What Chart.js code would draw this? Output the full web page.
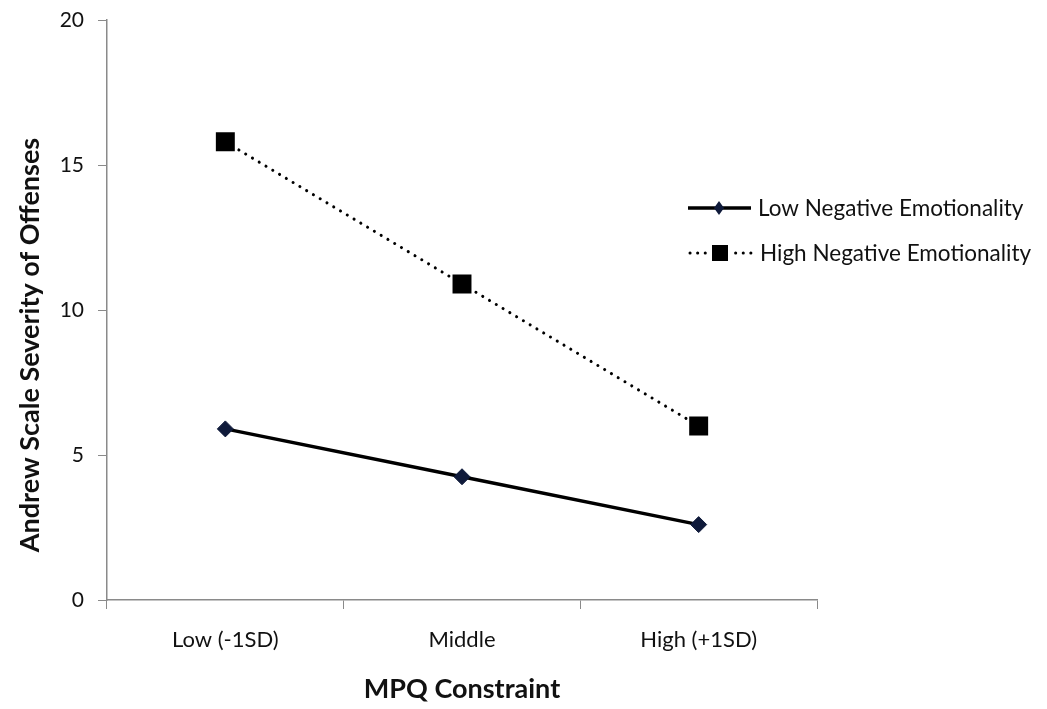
<!DOCTYPE html>
<html>
<head>
<meta charset="utf-8">
<style>
  html, body { margin: 0; padding: 0; background: #fff; }
  #wrap { position: relative; width: 1047px; height: 709px; }
</style>
<script src="https://cdn.jsdelivr.net/npm/chart.js@4/dist/chart.umd.min.js"></script>
</head>
<body>
<div id="wrap"><canvas id="c" width="1047" height="709"></canvas></div>
<script>
const categories = ["Low (-1SD)", "Middle", "High (+1SD)"];
const lowNE = [5.9, 4.25, 2.6];
const highNE = [15.8, 10.9, 6.0];
const seriesNames = ["Low Negative Emotionality", "High Negative Emotionality"];
const yTicks = [0, 5, 10, 15, 20];
const xTitle = "MPQ Constraint";
const yTitle = "Andrew Scale Severity of Offenses";

const FONT = "Lato, 'Open Sans', sans-serif";

const legendPlugin = {
  id: 'customLegend',
  afterDraw(chart) {
    const ctx = chart.ctx;
    const x0 = chart.chartArea.right - 129;
    const rows = [208, 253];
    ctx.save();
    // y axis title (placed as in the reference, slightly below the centre)
    ctx.save();
    ctx.translate(30, 345);
    ctx.rotate(-Math.PI / 2);
    ctx.fillStyle = '#111';
    ctx.font = "bold 27px " + FONT;
    ctx.textAlign = 'center';
    ctx.textBaseline = 'middle';
    ctx.fillText(yTitle, 0, 0);
    ctx.restore();
    // row 1: solid line with diamond
    ctx.strokeStyle = '#000';
    ctx.lineWidth = 3.5;
    ctx.setLineDash([]);
    ctx.beginPath();
    ctx.moveTo(x0, rows[0]);
    ctx.lineTo(x0 + 63, rows[0]);
    ctx.stroke();
    ctx.fillStyle = '#0f1a3a';
    ctx.beginPath();
    ctx.moveTo(x0 + 31, rows[0] - 7);
    ctx.lineTo(x0 + 36, rows[0]);
    ctx.lineTo(x0 + 31, rows[0] + 7);
    ctx.lineTo(x0 + 26, rows[0]);
    ctx.closePath();
    ctx.fill();
    // row 2: dotted with square
    ctx.strokeStyle = '#000';
    ctx.lineWidth = 3;
    ctx.lineCap = 'round';
    ctx.setLineDash([0.1, 7.5]);
    ctx.beginPath();
    ctx.moveTo(x0 + 2, rows[1]);
    ctx.lineTo(x0 + 64, rows[1]);
    ctx.stroke();
    ctx.setLineDash([]);
    ctx.fillStyle = '#fff';
    ctx.fillRect(x0 + 20, rows[1] - 10, 23, 20);
    ctx.fillStyle = '#000';
    ctx.fillRect(x0 + 24, rows[1] - 8, 16, 16);
    // text
    ctx.fillStyle = '#111';
    ctx.font = "22.5px " + FONT;
    ctx.textBaseline = 'middle';
    ctx.textAlign = 'left';
    ctx.fillText(seriesNames[0], x0 + 70, rows[0] + 1);
    ctx.fillText(seriesNames[1], x0 + 72, rows[1] + 1);
    ctx.restore();
  }
};

new Chart(document.getElementById('c'), {
  type: 'line',
  data: {
    labels: categories,
    datasets: [
      {
        label: seriesNames[0],
        data: lowNE,
        borderColor: '#000',
        borderWidth: 3.5,
        pointStyle: 'rectRot',
        pointRadius: 8,
        pointBackgroundColor: '#0f1a3a',
        pointBorderColor: '#0f1a3a',
        pointBorderWidth: 1,
        tension: 0
      },
      {
        label: seriesNames[1],
        data: highNE,
        borderColor: '#000',
        borderWidth: 3,
        borderDash: [0.1, 7.8],
        borderCapStyle: 'round',
        pointStyle: 'rect',
        pointRadius: 13.4,
        pointBackgroundColor: '#000',
        pointBorderColor: '#000',
        pointBorderWidth: 0,
        tension: 0
      }
    ]
  },
  options: {
    responsive: false,
    animation: false,
    devicePixelRatio: 1,
    layout: { autoPadding: false, padding: { left: 0, right: 230, top: 20, bottom: 0 } },
    plugins: {
      legend: { display: false },
      tooltip: { enabled: false }
    },
    scales: {
      x: {
        type: 'category',
        offset: true,
        afterFit(axis) { axis.height = 109; },
        grid: {
          offset: true,
          drawOnChartArea: false,
          drawTicks: true,
          tickLength: 9,
          color: '#8a8a8a',
          lineWidth: 1
        },
        border: { color: '#8a8a8a', width: 1.5 },
        ticks: {
          color: '#111',
          font: { family: FONT, size: 22 },
          padding: 18
        },
        title: {
          display: true,
          text: xTitle,
          color: '#111',
          font: { family: FONT, size: 27, weight: 'bold' },
          padding: { top: 4, bottom: 4 }
        }
      },
      y: {
        min: 0,
        max: 20,
        afterBuildTicks(axis) { axis.ticks = yTicks.map(v => ({ value: v })); },
        afterFit(axis) { axis.width = 107; axis.paddingTop = 0; axis.paddingBottom = 0; },
        grid: {
          drawOnChartArea: false,
          drawTicks: true,
          tickLength: 9,
          color: '#8a8a8a',
          lineWidth: 1
        },
        border: { color: '#8a8a8a', width: 1.5 },
        ticks: {
          color: '#111',
          font: { family: FONT, size: 21 },
          padding: 14
        },
        title: { display: false }
      }
    }
  },
  plugins: [legendPlugin]
});
</script>
</body>
</html>
